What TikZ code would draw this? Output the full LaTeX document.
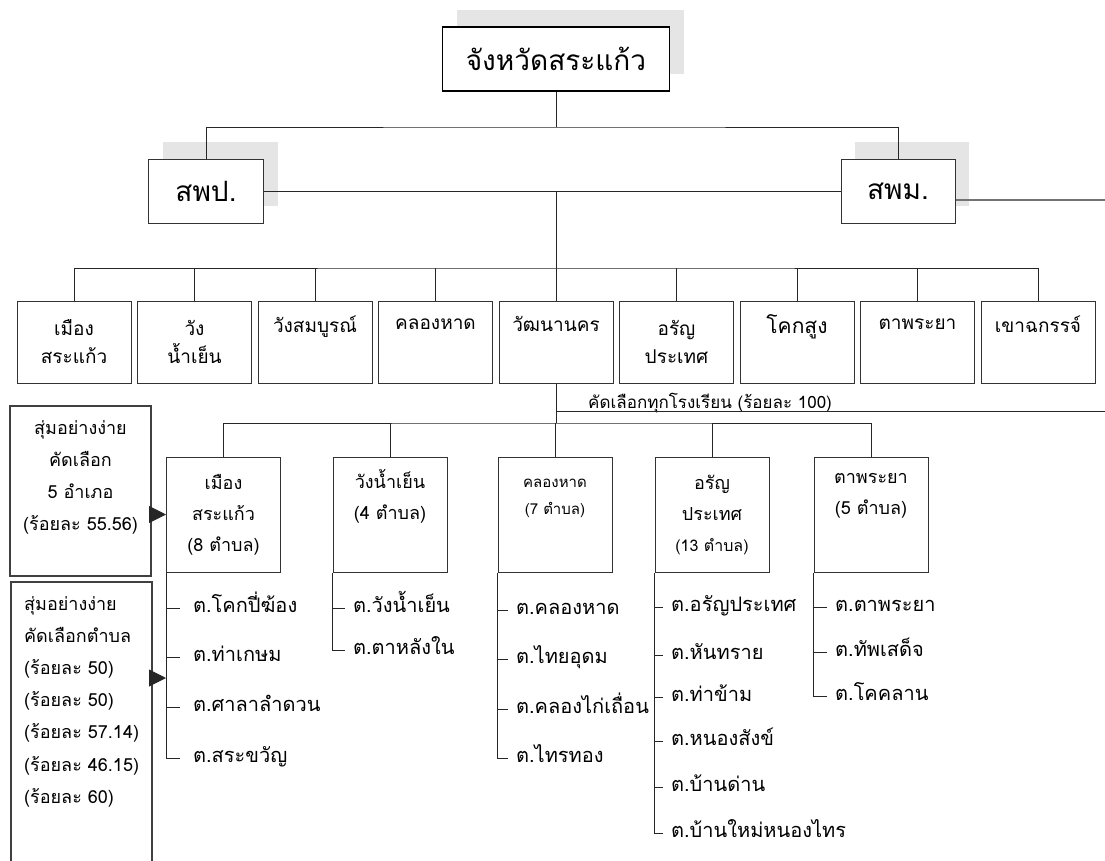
\documentclass[tikz,border=0pt]{standalone}
\usepackage{fontspec}
\newfontfamily\thaifont[Script=Thai]{Loma}
\usetikzlibrary{arrows.meta,shadows}
\begin{document}
\begin{tikzpicture}[x=1pt, y=-1pt, font=\thaifont,
    line/.style={draw=black!85, line width=0.9pt},
    box/.style={draw=black!80, fill=white, line width=1pt, align=center, inner sep=0pt},
    headbox/.style={box, minimum height=64pt, font=\fontsize{28}{34}\thaifont,
      general shadow={fill=black!10, draw=none, shadow xshift=14pt, shadow yshift=17pt}},
    distbox/.style={box, minimum width=114pt, minimum height=82pt, font=\fontsize{19}{28}\thaifont},
    subbox/.style={box, minimum width=114pt, minimum height=115pt, font=\fontsize{18}{31}\thaifont},
    pickbox/.style={box, draw=black!75, line width=1.6pt, minimum width=141pt},
    item/.style={anchor=west, inner xsep=8pt, inner ysep=0pt, text height=14pt, text depth=5pt,
      font=\fontsize{20}{24}\thaifont},
    arr/.style={line, -{Triangle[length=17pt,width=17pt]}}]

  \useasboundingbox (0,0) rectangle (1105,860);

  \node[headbox, minimum width=227pt, draw=black, line width=1.8pt] (prov) at (556,59) {จังหวัดสระแก้ว};
  \node[headbox, minimum width=115pt] (spp) at (206,191) {สพป.};
  \node[headbox, minimum width=114pt] (spm) at (898,191) {สพม.};

  \coordinate (topbus) at (556,127);
  \coordinate (rowbus) at (556,268);
  \coordinate (subbus) at (556,423);
  \coordinate (selend) at (1105,411);
  \coordinate (spmend) at (1105,200);

  \foreach \n/\t [count=\i from 0] in {d1/{เมือง\\สระแก้ว}, d2/{วัง\\น้ำเย็น}, d3/{วังสมบูรณ์\\\strut},
      d4/{คลองหาด\\\strut}, d5/{วัฒนานคร\\\strut}, d6/{อรัญ\\ประเทศ}, d7/{{\fontsize{21}{28}\selectfont โคกสูง}\\\strut},
      d8/{ตาพระยา\\\strut}, d9/{เขาฉกรรจ์\\\strut}}
    \node[distbox] (\n) at (74+120.5*\i,342) {\t};

  \node[subbox] (s1) at (223.5,514.5) {เมือง\\สระแก้ว\\(8 ตำบล)};
  \node[subbox] (s2) at (390,514.5) {วังน้ำเย็น\\(4 ตำบล)\\\strut};
  \node[subbox, font=\fontsize{15}{27}\thaifont] (s3) at (555,514.5) {คลองหาด\\(7 ตำบล)\\\strut};
  \node[subbox] (s4) at (712,514.5) {อรัญ\\ประเทศ\\{\fontsize{16}{31}\selectfont(13 ตำบล)}};
  \node[subbox] (s5) at (871,514.5) {ตาพระยา\\(5 ตำบล)\\\strut};

  \node[pickbox, minimum height=170pt, font=\fontsize{18}{32}\thaifont] (pick1) at (80.5,491)
    {สุ่มอย่างง่าย\\คัดเลือก\\5 อำเภอ\\(ร้อยละ 55.56)\\[-10pt]\strut};
  \node[pickbox, minimum height=300pt] (pick2) at (81.5,732) {};
  \node[anchor=north west, align=left, inner sep=0pt, font=\fontsize{18}{32.2}\thaifont] (pick2txt) at (24,596)
    {สุ่มอย่างง่าย\\คัดเลือกตำบล\\(ร้อยละ 50)\\(ร้อยละ 50)\\(ร้อยละ 57.14)\\(ร้อยละ 46.15)\\(ร้อยละ 60)};

  \node[anchor=base west, inner sep=0pt, font=\fontsize{17}{20}\thaifont] (allsch) at (588,408)
    {คัดเลือกทุกโรงเรียน (ร้อยละ 100)};

  \draw[line] (prov.south) -- (topbus);
  \draw[line] (spp.north) |- (topbus) -| (spm.north);
  \draw[line] (spp.east) -- (spm.west);
  \draw[line, draw=black!55, line width=1.3pt] (spm.east |- spmend) -- (spmend);
  \draw[line] (prov |- spp.east) -- (rowbus);
  \draw[line] (d1.north) |- (rowbus) -| (d9.north);
  \foreach \n in {d2,d3,d4,d5,d6,d7,d8} \draw[line] (\n.north) -- (\n.north |- rowbus);
  \draw[line] (d5.south) -- (subbus);
  \draw[line] (d5.south |- selend) -- (selend);
  \draw[line] (s1.north) |- (subbus) -| (s5.north);
  \foreach \n in {s2,s3,s4} \draw[line] (\n.north) -- (\n.north |- subbus);

  \draw[arr] (pick1.east |- s1.west) -- (s1.west);
  \draw[arr] (pick2.east |- 0,678) -- (s1.south west |- 0,678);

  \foreach \n/\y/\t in {a1/608/ต.โคกปี่ฆ้อง, a2/657/ต.ท่าเกษม, a3/707/ต.ศาลาลำดวน, a4/758/ต.สระขวัญ}
    \node[item, inner xsep=13pt] (\n) at (180,\y) {\t};
  \draw[line] (s1.south west) |- (a4.west);
  \foreach \n in {a1,a2,a3} \draw[line] (s1.south west |- \n.west) -- (\n.west);

  \foreach \n/\y/\t in {b1/608/ต.วังน้ำเย็น, b2/650/ต.ตาหลังใน}
    \node[item] (\n) at (345,\y) {\t};
  \draw[line] (s2.south west) |- (b2.west);
  \draw[line] (s2.south west |- b1.west) -- (b1.west);

  \foreach \n/\y/\t in {c1/610/ต.คลองหาด, c2/659/ต.ไทยอุดม, c3/709/ต.คลองไก่เถื่อน, c4/758/ต.ไทรทอง}
    \node[item] (\n) at (508,\y) {\t};
  \draw[line] (s3.south west) |- (c4.west);
  \foreach \n in {c1,c2,c3} \draw[line] (s3.south west |- \n.west) -- (\n.west);

  \foreach \n/\y/\t in {e1/607/ต.อรัญประเทศ, e2/655/ต.หันทราย, e3/697/ต.ท่าข้าม, e4/741/ต.หนองสังข์,
      e5/787/ต.บ้านด่าน, e6/833/ต.บ้านใหม่หนองไทร}
    \node[item] (\n) at (663,\y) {\t};
  \draw[line] (s4.south west) |- (e6.west);
  \foreach \n in {e1,e2,e3,e4,e5} \draw[line] (s4.south west |- \n.west) -- (\n.west);

  \foreach \n/\y/\t in {f1/607/ต.ตาพระยา, f2/652/ต.ทัพเสด็จ, f3/696/ต.โคคลาน}
    \node[item] (\n) at (827,\y) {\t};
  \draw[line] (s5.south west) |- (f3.west);
  \foreach \n in {f1,f2} \draw[line] (s5.south west |- \n.west) -- (\n.west);
\end{tikzpicture}
\end{document}
